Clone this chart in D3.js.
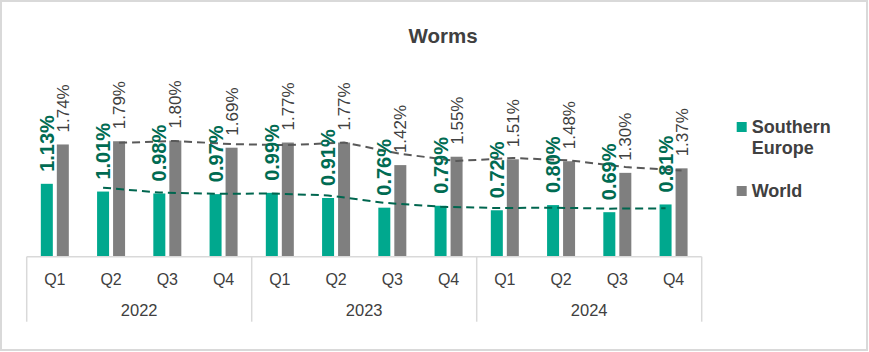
<!DOCTYPE html>
<html><head><meta charset="utf-8">
<script src="https://cdn.jsdelivr.net/npm/d3@7/dist/d3.min.js"></script>
<style>body{margin:0;background:#fff}svg{display:block}text{font-family:"Liberation Sans",Arial,sans-serif}</style>
</head><body>
<script>
const quarters = ["Q1","Q2","Q3","Q4","Q1","Q2","Q3","Q4","Q1","Q2","Q3","Q4"];
const years = ["2022","2023","2024"];
const seriesNames = ["Southern Europe","World"];
const southernEurope = [1.13,1.01,0.98,0.97,0.99,0.91,0.76,0.79,0.72,0.80,0.69,0.81];
const world = [1.74,1.79,1.80,1.69,1.77,1.77,1.42,1.55,1.51,1.48,1.30,1.37];
const title = "Worms";

const W = 869, H = 352;
const barColors = ["#00A88E","#7F7F7F"];
const labelColors = ["#006B52","#404040"];
const trendColors = ["#00664F","#595959"];

const svg = d3.select("body").append("svg").attr("width",W).attr("height",H);
svg.append("rect").attr("x",1).attr("y",1).attr("width",W-3).attr("height",H-3)
  .attr("fill","#fff").attr("stroke","#D9D9D9").attr("stroke-width",2);

svg.append("text").attr("x",443).attr("y",43).attr("text-anchor","middle")
  .attr("font-size",20.5).attr("font-weight","bold").attr("fill","#404040").text(title);

const idx = d3.range(quarters.length);
const x0 = d3.scaleBand().domain(idx).range([26.7,701.7]).padding(0);
const x1 = d3.scaleBand().domain([0,1]).range([0,28]).paddingInner(0.25).paddingOuter(0);
const off = (x0.bandwidth()-28)/2;
const y = d3.scaleLinear().domain([0,2]).range([256.7,127.7]);

const data = [southernEurope, world];
data.forEach((vals,s)=>{
  const g = svg.append("g");
  g.selectAll("rect").data(vals).join("rect")
    .attr("x",(d,i)=>x0(i)+off+x1(s)).attr("width",x1.bandwidth())
    .attr("y",d=>y(d)).attr("height",d=>y(0)-y(d)).attr("fill",barColors[s]);
});

// 2-period moving average trendlines
data.forEach((vals,s)=>{
  const ma = vals.map((v,i)=> i===0?null:(v+vals[i-1])/2);
  const pts = ma.map((v,i)=>[x0(i)+off+x1(s)+x1.bandwidth()/2, v]).filter(p=>p[1]!==null);
  svg.append("path").datum(pts)
    .attr("d",d3.line().x(p=>p[0]).y(p=>y(p[1])))
    .attr("fill","none").attr("stroke",trendColors[s]).attr("stroke-width",2)
    .attr("stroke-dasharray","8,5");
});

// labels
data.forEach((vals,s)=>{
  svg.append("g").selectAll("text").data(vals).join("text")
    .attr("transform",(d,i)=>`translate(${x0(i)+off+x1(s)+x1.bandwidth()/2},${y(d)-12}) rotate(-90)`)
    .attr("dy","0.35em")
    .attr("font-size", s===0?20:17)
    .attr("font-weight", s===0?"bold":"normal")
    .attr("fill",labelColors[s])
    .text(d=>d.toFixed(2)+"%");
});

// axis
const axisY = y(0);
const ax = svg.append("g").attr("stroke","#D9D9D9").attr("stroke-width",1.5);
ax.append("line").attr("x1",x0.range()[0]).attr("x2",x0.range()[1]).attr("y1",axisY).attr("y2",axisY);
const seps = [0,4,8,12];
seps.forEach(k=>{
  const xx = k<12 ? x0(k) : x0.range()[1];
  ax.append("line").attr("x1",xx).attr("x2",xx).attr("y1",axisY).attr("y2",321.7);
});
svg.append("g").selectAll("text").data(quarters).join("text")
  .attr("x",(d,i)=>x0(i)+x0.bandwidth()/2).attr("y",285).attr("text-anchor","middle")
  .attr("font-size",16).attr("fill","#404040").text(d=>d);
svg.append("g").selectAll("text").data(years).join("text")
  .attr("x",(d,i)=>(x0(i*4)+ (i*4+4<12?x0(i*4+4):x0.range()[1]))/2).attr("y",316).attr("text-anchor","middle")
  .attr("font-size",16.5).attr("fill","#404040").text(d=>d);

// legend
const leg = svg.append("g");
const legY = [132, 196];
const legLines = [["Southern","Europe"],["World"]];
seriesNames.forEach((n,s)=>{
  leg.append("rect").attr("x",736.7).attr("y",legY[s]-10).attr("width",10).attr("height",10).attr("fill",barColors[s]);
  const t = leg.append("text").attr("x",751.7).attr("y",legY[s]+1).attr("font-size",18).attr("font-weight","bold").attr("fill","#404040");
  legLines[s].forEach((l,j)=>t.append("tspan").attr("x",751.7).attr("dy",j===0?0:21).text(l));
});
</script>
</body></html>
